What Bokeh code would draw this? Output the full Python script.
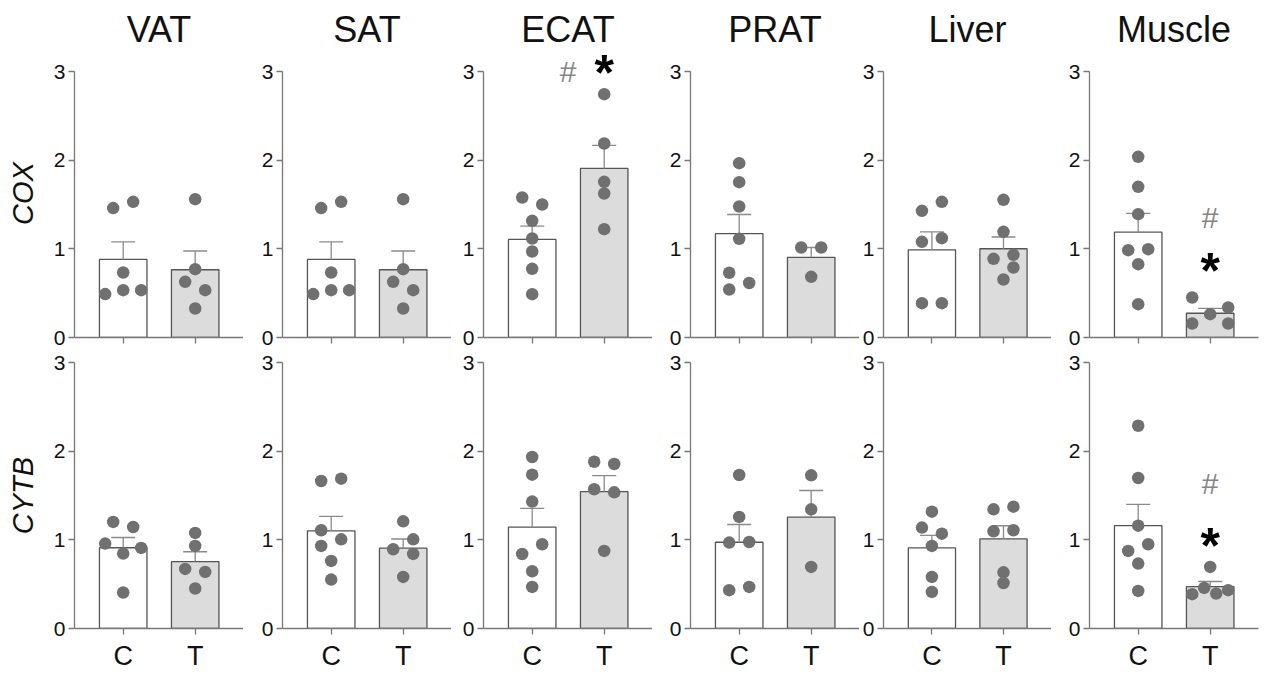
from bokeh.plotting import figure
from bokeh.layouts import row, column
from bokeh.models import Range1d, FixedTicker
from bokeh.core.properties import value
from bokeh.embed import file_html
from bokeh.resources import INLINE

# ---------------- data (dots listed left to right) ----------------
tissues = ["VAT", "SAT", "ECAT", "PRAT", "Liver", "Muscle"]
genes = ["COX", "CYTB"]
groups = ["C", "T"]
y_ticks = [0, 1, 2, 3]

cox_c = {
    "VAT": [1.46, 1.53, 0.733, 0.49, 0.534, 0.534],
    "SAT": [1.46, 1.53, 0.733, 0.49, 0.534, 0.534],
    "ECAT": [1.579, 1.50, 1.316, 1.117, 0.97, 0.774, 0.489],
    "PRAT": [1.966, 1.752, 1.477, 1.113, 0.73, 0.615, 0.541],
    "Liver": [1.429, 1.53, 1.079, 1.12, 0.387, 0.387],
    "Muscle": [2.038, 1.699, 1.391, 0.985, 0.996, 0.827, 0.376],
}
cox_t = {
    "VAT": [1.56, 0.771, 0.628, 0.534, 0.327],
    "SAT": [1.56, 0.771, 0.628, 0.534, 0.327],
    "ECAT": [2.744, 2.188, 1.756, 1.624, 1.222],
    "PRAT": [1.015, 1.015, 0.684],
    "Liver": [1.553, 1.192, 0.887, 0.932, 0.789, 0.654],
    "Muscle": [0.158, 0.263, 0.158, 0.451, 0.338],
}
cytb_c = {
    "VAT": [1.202, 1.145, 0.958, 0.845, 0.909, 0.406],
    "SAT": [1.664, 1.69, 1.108, 1.006, 0.931, 0.762, 0.552],
    "ECAT": [1.934, 1.735, 1.431, 0.84, 0.95, 0.646, 0.469],
    "PRAT": [1.731, 1.258, 0.969, 0.976, 0.432, 0.469],
    "Liver": [1.318, 1.138, 1.07, 0.931, 0.582, 0.413],
    "Muscle": [2.287, 1.697, 1.16, 0.875, 0.95, 0.732, 0.424],
}
cytb_t = {
    "VAT": [1.078, 0.931, 0.672, 0.638, 0.451],
    "SAT": [1.209, 0.894, 1.006, 0.841, 0.582],
    "ECAT": [1.881, 1.855, 1.57, 1.536, 0.875],
    "PRAT": [1.727, 1.344, 0.695],
    "Liver": [1.344, 1.374, 1.097, 1.108, 0.633, 0.513],
    "Muscle": [0.695, 0.387, 0.458, 0.394, 0.432],
}
# significance marks: (gene, tissue, x group position, y value, symbol)
sig_marks = [
    ("COX", "ECAT", 1.5, 3.00, "#"),
    ("COX", "ECAT", 2.0, 3.06, "*"),
    ("COX", "Muscle", 2.0, 1.35, "#"),
    ("COX", "Muscle", 2.0, 0.83, "*"),
    ("CYTB", "Muscle", 2.0, 1.64, "#"),
    ("CYTB", "Muscle", 2.0, 1.01, "*"),
]

gene_data = {"COX": (cox_c, cox_t), "CYTB": (cytb_c, cytb_t)}

# ---------------- layout constants ----------------
FRAME_W = 169
LEFT_B = [74, 39, 32, 38, 23, 38]
RIGHT_B = [0, 0, 0, 0, 0, 10]
PX_X = 72.0                 # px per x unit
PX_Y = 266.0 / 3.0          # px per y unit
X0 = 1 - 48.7 / PX_X
X1 = X0 + FRAME_W / PX_X
BAR_W = 47.5 / PX_X
CAP_W = 24.0 / PX_X

ROWS = {
    "COX": dict(height=349, top=49, bottom=12),
    "CYTB": dict(height=324, top=13, bottom=45),
}

FONT = "Liberation Sans"
AXIS_COL = "#777777"
BAR_LINE = "#555555"
ERR_COL = "#8a8a8a"
DOT_COL = "#707070"
FILLS = ["#ffffff", "#dcdcdc"]


def swarm(vals):
    """Scatter layout: dots that would overlap are put side by side (in list order),
    then each overlapping group is centred on the bar."""
    n = len(vals)
    step, dh, dv, lim = 10.0, 20.0, 10.5, 18.0
    cands = [k * step for k in range(0, 20)]
    pos = {}
    for i in range(n):
        for c in cands:
            ok = all(not (abs(vals[i] - vals[j]) * PX_Y < dv and abs(c - pos[j]) < dh - 1e-6)
                     for j in pos)
            if ok:
                pos[i] = c
                break
    srt = sorted(range(n), key=lambda i: vals[i])
    clusters = [[srt[0]]]
    for a, b in zip(srt, srt[1:]):
        if (vals[b] - vals[a]) * PX_Y < dv:
            clusters[-1].append(b)
        else:
            clusters.append([b])
    for cl in clusters:
        xs = [pos[i] for i in cl]
        mid = (min(xs) + max(xs)) / 2
        for i in cl:
            pos[i] -= mid
        m = max(abs(pos[i]) for i in cl)
        if m > lim:
            for i in cl:
                pos[i] *= lim / m
    return [pos[i] / PX_X for i in range(n)]


def mean_sem(v):
    n = len(v)
    m = sum(v) / n
    sd = (sum((x - m) ** 2 for x in v) / (n - 1)) ** 0.5
    return m, sd / n ** 0.5


rows = []
for gene in genes:
    cfg = ROWS[gene]
    frame_h = cfg["height"] - cfg["top"] - cfg["bottom"]
    y_end = frame_h / PX_Y
    figs = []
    for ti, tissue in enumerate(tissues):
        lb, rb = LEFT_B[ti], RIGHT_B[ti]
        p = figure(width=lb + FRAME_W + rb, height=cfg["height"],
                   x_range=Range1d(X0, X1), y_range=Range1d(0, y_end),
                   output_backend="svg", toolbar_location=None,
                   min_border_left=lb, min_border_right=rb,
                   min_border_top=cfg["top"], min_border_bottom=cfg["bottom"])
        p.outline_line_color = None
        p.grid.visible = False
        p.background_fill_color = "white"
        p.border_fill_color = "white"

        # axes
        for ax in (p.xaxis[0], p.yaxis[0]):
            ax.axis_line_color = AXIS_COL
            ax.axis_line_width = 1.3
            ax.major_tick_line_color = AXIS_COL
            ax.major_tick_line_width = 1.3
            ax.major_tick_out = 6
            ax.major_tick_in = 0
            ax.minor_tick_line_color = None
            ax.major_label_text_font = FONT
            ax.major_label_text_color = "#111111"
        p.yaxis.ticker = FixedTicker(ticks=y_ticks)
        p.yaxis.bounds = (y_ticks[0], y_ticks[-1])
        p.yaxis.major_label_text_font_size = "21px"
        p.yaxis.major_label_standoff = 3
        xs_pos = [i + 1 for i in range(len(groups))]
        p.xaxis.ticker = FixedTicker(ticks=xs_pos)
        if gene == genes[-1]:
            p.xaxis.major_label_overrides = {x: g for x, g in zip(xs_pos, groups)}
            p.xaxis.major_label_text_font_size = "27px"
            p.xaxis.major_label_standoff = 6
        else:
            p.xaxis.major_label_overrides = {x: "" for x in xs_pos}
            p.xaxis.major_label_text_font_size = "10px"
            p.xaxis.major_label_standoff = 0
        if ti == 0:
            p.yaxis.axis_label = gene
            p.yaxis.axis_label_text_font = FONT
            p.yaxis.axis_label_text_font_size = "29px"
            p.yaxis.axis_label_text_font_style = "italic"
            p.yaxis.axis_label_text_color = "#111111"
            p.yaxis.axis_label_standoff = 12

        if gene == genes[0]:
            p.title.text = tissue
            p.title.align = "center"
            p.title.text_font = FONT
            p.title.text_font_size = "36px"
            p.title.text_font_style = "normal"
            p.title.text_color = "#111111"
            p.title.standoff = 0

        c_vals, t_vals = gene_data[gene]
        series = [c_vals[tissue], t_vals[tissue]]
        means, sems = [], []
        for v in series:
            m, s = mean_sem(v)
            means.append(m)
            sems.append(s)

        # bars
        p.vbar(x=xs_pos, top=means, bottom=0, width=BAR_W, fill_color=FILLS,
               line_color=BAR_LINE, line_width=1.3)
        # error bars (SEM, upward)
        tops = [m + s for m, s in zip(means, sems)]
        p.segment(x0=xs_pos, y0=means, x1=xs_pos, y1=tops, line_color=ERR_COL, line_width=1.3)
        p.segment(x0=[x - CAP_W / 2 for x in xs_pos], y0=tops,
                  x1=[x + CAP_W / 2 for x in xs_pos], y1=tops,
                  line_color=ERR_COL, line_width=1.3)
        # dots
        for x, v in zip(xs_pos, series):
            offs = swarm(v)
            p.scatter(x=[x + o for o in offs], y=v, size=12.5, fill_color=DOT_COL,
                      line_color=None)

        # significance marks
        for g, t, sx, sy, sym in sig_marks:
            if g == gene and t == tissue:
                if sym == "#":
                    p.text(x=[sx], y=[sy], text=[sym], text_font=value(FONT),
                           text_font_size="30px", text_color="#858585",
                           text_align="center", text_baseline="middle")
                else:
                    p.text(x=[sx], y=[sy], text=[sym], text_font=value(FONT),
                           text_font_size="50px", text_font_style="bold",
                           text_color="#000000", text_align="center",
                           text_baseline="middle", y_offset=7)
        figs.append(p)
    rows.append(row(*figs, spacing=0))

layout = column(*rows, spacing=0)
open("out.html", "w").write(file_html(layout, INLINE))
